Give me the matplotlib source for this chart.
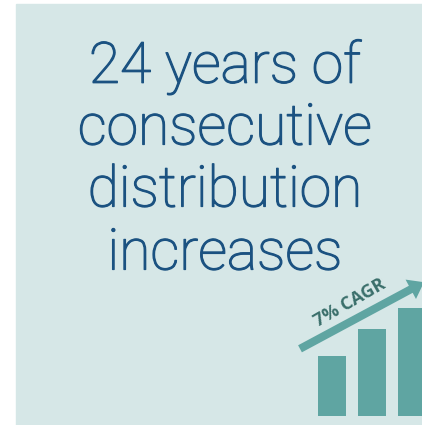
import matplotlib
matplotlib.use("Agg")
import matplotlib.pyplot as plt
import matplotlib.patheffects as pe
from matplotlib.patches import Rectangle

# headline lines and the growth bars
headline = ["24 years of", "consecutive", "distribution", "increases"]
bar_pos = [0, 1, 2]
bar_vals = [1.0, 1.45, 1.8]
cagr_label = "7% CAGR"

bg = "#d6e7e7"
navy = "#1b5281"
teal = "#5fa5a2"
dark_teal = "#3a6f6b"

W, H = 422, 425
fig = plt.figure(figsize=(W / 100, H / 100), dpi=100)

# full-figure axes in pixel units
ax = fig.add_axes([0, 0, 1, 1])
ax.set_xlim(0, W)
ax.set_ylim(H, 0)
ax.axis("off")
ax.add_patch(Rectangle((16, 4), W - 16, H - 4, color=bg, zorder=0))

# light face, thickened a little with a stroke of the same colour
line_y = [67, 129, 191, 254]
for txt, y in zip(headline, line_y):
    ax.text(225, y, txt, ha="center", va="center", color=navy,
            fontsize=41, family="Roboto", fontweight="light",
            path_effects=[pe.withStroke(linewidth=0.9, foreground=navy)])

# small bar chart in the corner
x0, x1, y0, y1 = 297, 422, 260, 416
bx = fig.add_axes([x0 / W, 1 - y1 / H, (x1 - x0) / W, (y1 - y0) / H])
bx.set_xlim(-0.875, 2.25)
bx.set_ylim(0, (y1 - y0) / 60)
bx.axis("off")
bx.patch.set_alpha(0)
bx.bar(bar_pos, bar_vals, width=0.68, color=teal, zorder=2)

bx.annotate("", xy=(2.3, 2.23), xytext=(-0.8, 1.12),
            arrowprops=dict(arrowstyle="simple,tail_width=0.4,head_width=1.1,head_length=0.75",
                            mutation_scale=14.4, color=teal, lw=0, shrinkA=0, shrinkB=0),
            annotation_clip=False)
bx.text(0.45, 1.88, cagr_label, rotation=30, rotation_mode="anchor",
        ha="center", va="center", color=dark_teal, fontsize=13,
        family="Open Sans", fontweight="bold")

fig.savefig("out.png", dpi=100)
